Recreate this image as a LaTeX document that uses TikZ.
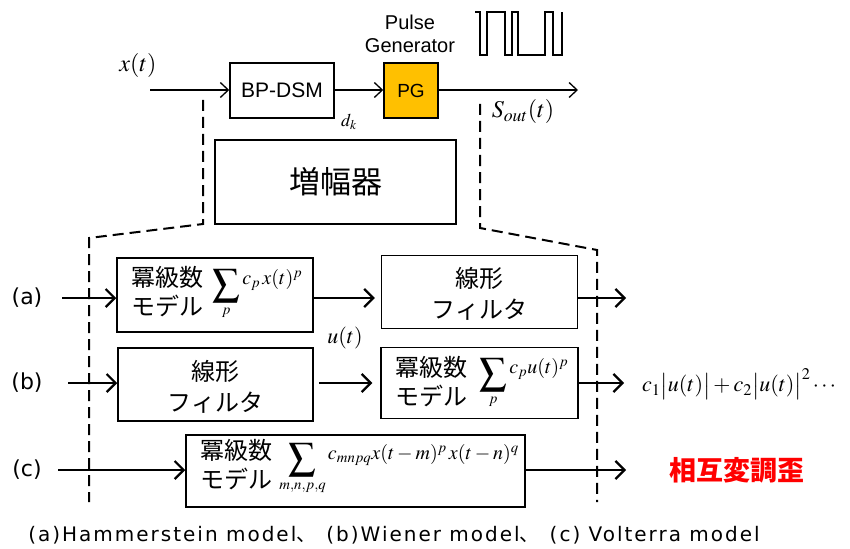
\documentclass[tikz,border=0pt]{standalone}
\usepackage{mathptmx}
\usepackage{graphicx}
\usepackage[no-math]{fontspec}
\setmainfont{Liberation Sans}
\newfontfamily\jp{Noto Sans CJK JP}
\newfontfamily\widesans{DejaVu Sans}
\newfontfamily\capsans[LetterSpace=10]{DejaVu Sans}
\usetikzlibrary{arrows.meta}

\tikzset{
  box/.style={draw, line width=1.5pt, inner sep=0pt},
  arr/.style={line width=2.4pt, -{Straight Barb[length=9pt,width=18pt,line width=2.2pt]}},
  thinarr/.style={line width=1.3pt, -{Straight Barb[length=8pt,width=15pt,line width=1.3pt]}},
  dashline/.style={line width=2pt, dash pattern=on 11pt off 6pt},
  sans/.style={font=\fontsize{21}{25}\selectfont, inner sep=0pt},
  jptxt/.style={font=\jp\fontsize{24}{29}\selectfont, align=left, inner sep=0pt},
  jpcenter/.style={font=\jp\fontsize{24}{31}\selectfont, align=center, inner sep=0pt},
  mathlbl/.style={font=\fontsize{24}{28}\selectfont, inner sep=0pt},
  formula/.style={font=\fontsize{20}{24}\selectfont, inner sep=0pt},
  rowlbl/.style={font=\widesans\fontsize{22}{26}\selectfont, inner sep=0pt},
}
% an enlarged summation sign, and a sum whose summand sits near the top of the sign
\newcommand\bigsum{\mathop{\vcenter{\hbox{\scalebox{1.35}{$\displaystyle\sum$}}}}\limits}
\newcommand\liftsum[2]{\displaystyle\bigsum_{#1}\raisebox{6pt}{$#2$}}

\begin{document}
\begin{tikzpicture}[x=1pt, y=-1pt]
\useasboundingbox (0,0) rectangle (850,548);

% ---- transmitter chain ----
\node[box, minimum width=104pt, minimum height=55pt] (dsm) at (282,90.5) {};
\node[sans] (dsmt) at (dsm) {BP-DSM};
\node[box, fill={rgb,255:red,255;green,192;blue,0}, minimum width=54pt, minimum height=55pt] (pg) at (411,90.5) {};
\node[sans, font=\fontsize{19}{23}\selectfont] (pgt) at (pg) {PG};
\node[sans, align=center, font=\fontsize{20}{23}\selectfont] (pgname) at (410,34) {Pulse\\Generator};

\coordinate (xin) at (150,90);
\coordinate (sout) at (578,90);
\draw[thinarr] (xin) -- (dsm.west |- xin);
\draw[thinarr] (dsm.east |- xin) -- (pg.west |- xin);
\draw[thinarr] (pg.east |- xin) -- (sout);

\node[mathlbl] (xt) at (138,66) {$x(t)$};
\node[mathlbl, font=\fontsize{18}{20}\selectfont] (dk) at (349,122) {$d_k$};
\node[mathlbl] (st) at (523,112) {$S_{out}(t)$};

% pulse train
\draw[line width=2pt, line join=miter] (475,12) -- (480,12) -- (480,55) -- (487,55) -- (487,12)
  -- (505,12) -- (505,55) -- (512,55) -- (512,12) -- (518,12) -- (518,55)
  -- (545,55) -- (545,12) -- (553,12) -- (553,55) -- (562,55) -- (562,12);

% ---- amplifier block and its expansion ----
\node[box, minimum width=241pt, minimum height=84pt] (amp) at (335.5,182) {};
\node[font=\jp\fontsize{31}{36}\selectfont, inner sep=0pt] (ampt) at (amp) {増幅器};

\coordinate (lt) at (203,100);
\coordinate (lb) at (203,224);
\coordinate (lc) at (89,238);
\coordinate (le) at (89,502);
\coordinate (rt) at (480,104);
\coordinate (rb) at (480,228);
\coordinate (rc) at (597,250);
\coordinate (re) at (597,502);
\draw[dashline] (lt) -- (lb) -- (lc) -- (le);
\draw[dashline] (rt) -- (rb) -- (rc) -- (re);

% ---- (a) Hammerstein ----
\node[rowlbl] (la) at (27,298) {(a)};
\coordinate (ain) at (62,298);
\coordinate (aout) at (626,298);
\node[box, minimum width=196pt, minimum height=74pt] (a1) at (215,295) {};
\node[box, minimum width=196pt, minimum height=73pt] (a2) at (479.5,292) {};
\node[jptxt, anchor=west] (a1t) at ([xshift=15pt, yshift=3pt]a1.west) {冪級数\\モデル};
\node[formula, anchor=west] (a1f) at ([xshift=96pt, yshift=1pt]a1.west) {$\liftsum{p}{c_p\,x(t)^p}$};
\node[jpcenter] (a2t) at ([yshift=-2pt]a2) {線形\\フィルタ};
\draw[arr] (ain) -- (a1.west |- ain);
\draw[arr] (a1.east |- ain) -- ([xshift=-6pt]a2.west |- ain);
\draw[arr] (a2.east |- ain) -- (aout);
\node[mathlbl, font=\fontsize{22}{26}\selectfont] (ut) at (345,338) {$u(t)$};

% ---- (b) Wiener ----
\node[rowlbl] (lbb) at (27,383) {(b)};
\coordinate (bin) at (68,383);
\coordinate (bout) at (624,383);
\node[box, minimum width=195pt, minimum height=73pt] (b1) at (215.5,384.5) {};
\node[box, minimum width=197pt, minimum height=71pt] (b2) at (479.5,383) {};
\node[jpcenter] (b1t) at ([yshift=-2pt]b1) {線形\\フィルタ};
\node[jptxt, anchor=west] (b2t) at ([xshift=15pt, yshift=1pt]b2.west) {冪級数\\モデル};
\node[formula, anchor=west] (b2f) at ([xshift=99pt, yshift=0pt]b2.west) {$\liftsum{p}{c_p u(t)^p}$};
\draw[arr] (bin) -- (b1.west |- bin);
\draw[arr, shorten <=5pt] (b1.east |- bin) -- ([xshift=-8pt]b2.west |- bin);
\draw[arr] (b2.east |- bin) -- (bout);
\node[mathlbl, font=\fontsize{22}{26}\selectfont, anchor=west] (bres) at (642,384)
  {$c_1\bigl|u(t)\bigr| + c_2\bigl|u(t)\bigr|^2\cdots$};

% ---- (c) Volterra ----
\node[rowlbl] (lc1) at (27,470) {(c)};
\coordinate (cin) at (58,470);
\coordinate (cout) at (626,470);
\node[box, minimum width=339pt, minimum height=72pt] (c1) at (355.5,471) {};
\node[jptxt, anchor=west] (c1t) at ([xshift=15pt, yshift=6pt]c1.west) {冪級数\\モデル};
\node[formula, font=\fontsize{20}{24}\selectfont, anchor=west] (c1f) at ([xshift=94pt, yshift=2pt]c1.west)
  {$\liftsum{m,n,p,q}{c_{mnpq}x(t-m)^p\,x(t-n)^q}$};
\draw[arr] (cin) -- (c1.west |- cin);
\draw[arr] (c1.east |- cin) -- (cout);
\node[font=\jp\bfseries\fontsize{27}{30}\selectfont, text={rgb,255:red,255;green,0;blue,0}, inner sep=0pt] (imd) at (737,470) {相互変調歪};

% ---- caption ----
\node[font=\capsans\fontsize{20}{24}\selectfont, inner sep=0pt] (cap) at (394,535)
  {(a)Hammerstein model{\jp 、}\hspace{10pt}(b)Wiener model{\jp 、}\hspace{10pt}(c) Volterra model};
\end{tikzpicture}
\end{document}
